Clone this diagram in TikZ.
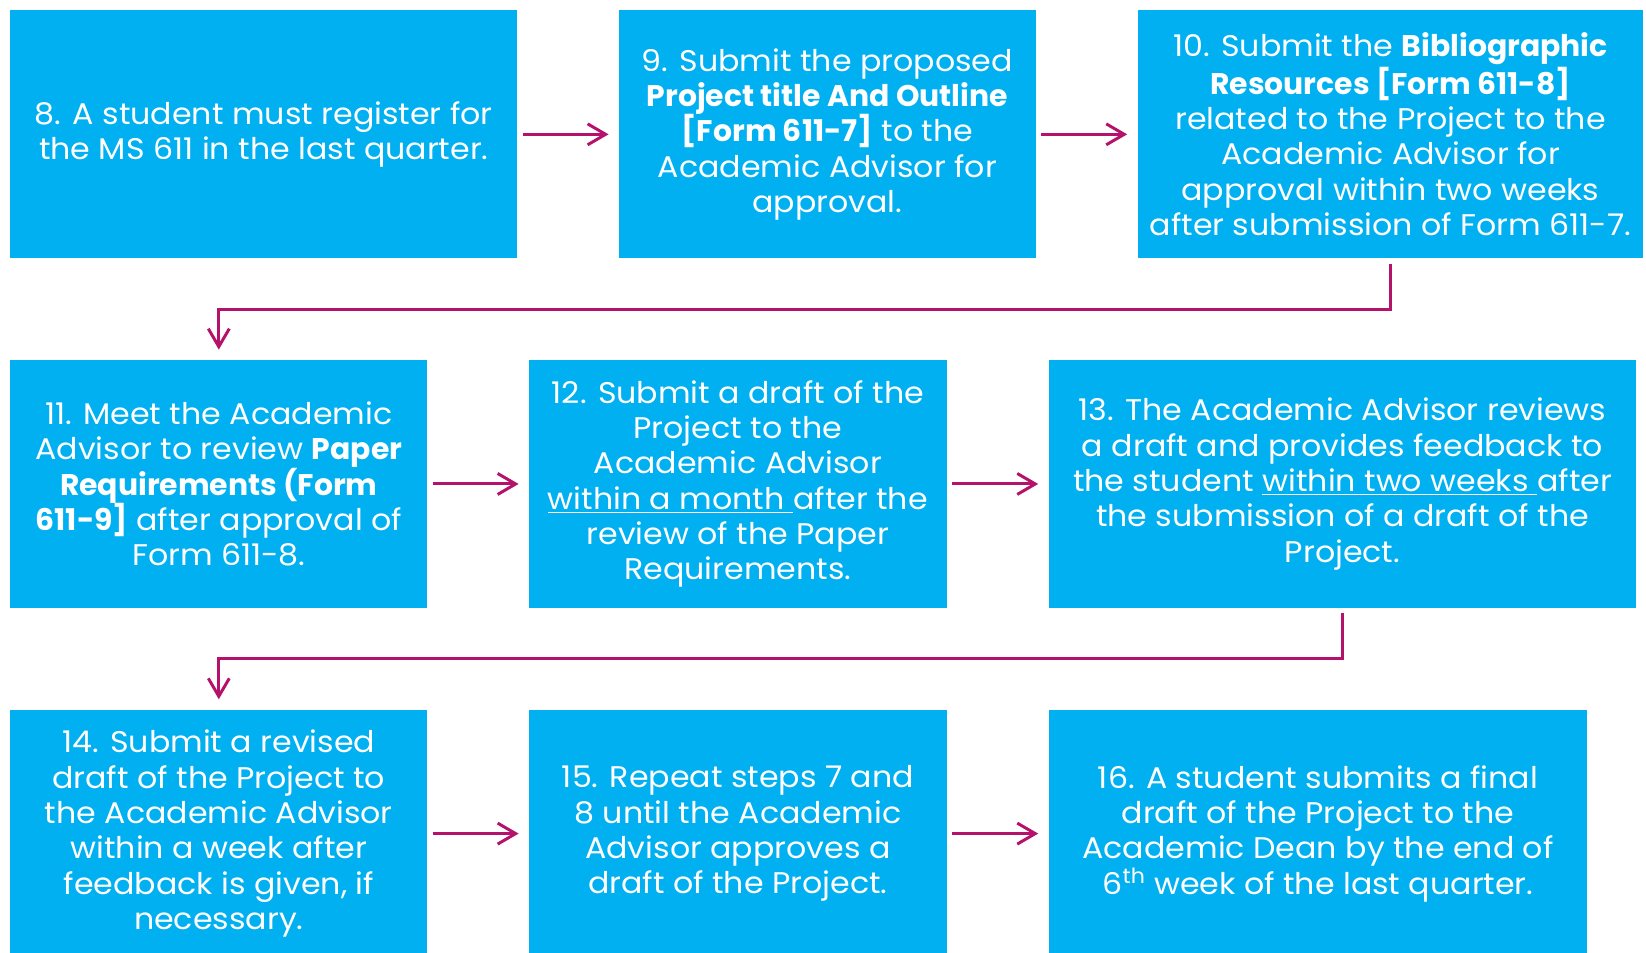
\documentclass[tikz,border=0pt]{standalone}
\usepackage{fontspec}
\setmainfont{Poppins}[FakeStretch=1.06, BoldFeatures={FakeStretch=1.0}]
\usetikzlibrary{arrows.meta, calc, positioning}
\definecolor{bluebox}{HTML}{00B0F0}
\definecolor{plum}{HTML}{B5136B}

\begin{document}
\begin{tikzpicture}[x=0.02cm, y=-0.02cm, node distance=2.02cm,
            stepbox/.style={fill = bluebox, text = white, align = center, inner sep = 0pt,
                minimum height = 4.96cm, font = \fontsize{17}{20.1}\selectfont},
            flow/.style={draw = plum, line width = 1.7pt, -{Straight Barb[length=0.36cm, width=0.42cm]},
                shorten < = 0.1cm, shorten > = 0.2cm}]
        \clip (0,0) rectangle (1646,953);
        % first row
        \node[stepbox, minimum width = 10.14cm, anchor = north west] (s8) at (10,10)
            {8. A student must register for\\the MS 611 in the last quarter.};
        \node[stepbox, minimum width = 8.34cm, right = of s8] (s9)
            {9. Submit the proposed\\\textbf{Project title And Outline}\\\textbf{[Form 611-7]} to the\\Academic Advisor for\\approval.};
        \node[stepbox, minimum width = 10.12cm, right = of s9] (s10)
            {10. Submit the \textbf{Bibliographic}\\\textbf{Resources [Form 611-8]}\\related to the Project to the\\Academic Advisor for\\approval within two weeks\\after submission of Form 611-7.};
        % second row
        \node[stepbox, minimum width = 8.34cm, below = of s8.south west, anchor = north west] (s11)
            {11. Meet the Academic\\Advisor to review \textbf{Paper}\\\textbf{Requirements (Form}\\\textbf{611-9]} after approval of\\Form 611-8.};
        \node[stepbox, minimum width = 8.36cm, right = of s11] (s12)
            {12. Submit a draft of the\\Project to the\\Academic Advisor\\\underline{within a month }after the\\review of the Paper\\Requirements.};
        \node[stepbox, minimum width = 11.76cm, right = of s12] (s13)
            {13. The Academic Advisor reviews\\a draft and provides feedback to\\the student \underline{within two weeks }after\\the submission of a draft of the\\Project.};
        % third row
        \node[stepbox, minimum width = 8.34cm, below = of s11] (s14)
            {14. Submit a revised\\draft of the Project to\\the Academic Advisor\\within a week after\\feedback is given, if\\necessary.};
        \node[stepbox, minimum width = 8.36cm, right = of s14] (s15)
            {15. Repeat steps 7 and\\8 until the Academic\\Advisor approves a\\draft of the Project.};
        \node[stepbox, minimum width = 10.78cm, right = of s15] (s16)
            {16. A student submits a final\\draft of the Project to the\\Academic Dean by the end of\\6\textsuperscript{th} week of the last quarter.};

        \draw[flow] (s8) -- (s9);
        \draw[flow] (s9) -- (s10);
        \draw[flow] (s10.south) -- ++(0,50.5) -| (s11.north);
        \draw[flow] (s11) -- (s12);
        \draw[flow] (s12) -- (s13);
        \draw[flow] (s13.south) -- ++(0,50.5) -| (s14.north);
        \draw[flow] (s14) -- (s15);
        \draw[flow] (s15) -- (s16);
    \end{tikzpicture}
\end{document}
